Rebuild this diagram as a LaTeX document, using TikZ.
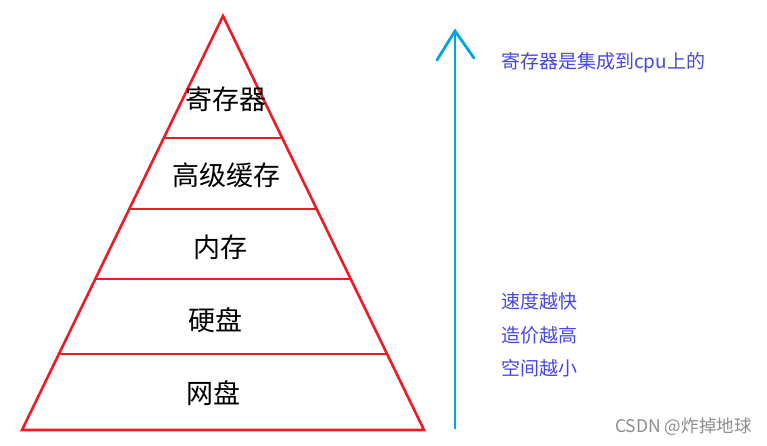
\documentclass[tikz,border=0pt]{standalone}
\usepackage{fontspec}
\setmainfont{Noto Sans CJK SC}
\usepackage{xcolor}
\usetikzlibrary{arrows.meta,positioning,calc}

\definecolor{pyrred}{HTML}{ED1C24}
\definecolor{arrblue}{HTML}{00A2E8}
\definecolor{notecol}{HTML}{4646E0}

\begin{document}
\begin{tikzpicture}[
    x=1pt, y=-1pt,
    edge/.style={draw=pyrred, line width=2.6pt},
    level/.style={font=\fontsize{27}{30}\selectfont, text=black, inner sep=0pt},
    note/.style={font=\fontsize{19}{22}\selectfont, text=notecol, inner sep=0pt, anchor=west},
    wmark/.style={font=\fontsize{17.5}{20}\selectfont, text=black!45, inner sep=0pt, anchor=west},
    up/.style={draw=arrblue, line width=2.8pt}
]
    \useasboundingbox (0,0) rectangle (767,445);

    % pyramid
    \coordinate (apex) at (223,16);
    \coordinate (bl) at (22,430);
    \coordinate (br) at (424,430);
    \draw[edge] (bl) -- (apex) -- (br) -- cycle;
    \foreach \y in {138,209,279,354}
        \draw[edge] ({223-(\y-16)*0.4855},\y) -- ({223+(\y-16)*0.4855},\y);

    \node[level] (reg) at (226,99) {寄存器};
    \node[level] (cache) at (226,175) {高级缓存};
    \node[level] (mem) at (220,247) {内存};
    \node[level] (disk) at (215,320) {硬盘};
    \node[level] (net) at (213,393) {网盘};

    % arrow
    \coordinate (tail) at (455,429);
    \coordinate (tip) at (455,31);
    \coordinate (barbl) at (437,60);
    \coordinate (barbr) at (474,58);
    \draw[up] (tail) -- (tip);
    \draw[up, line cap=round] (barbl) -- (tip) -- (barbr);

    % notes
    \node[note] (cpu) at (501,63) {寄存器是集成到cpu上的};
    \node[note] (fast) at (501,301) {速度越快};
    \node[note, below=34pt of fast.west, anchor=west] (cost) {造价越高};
    \node[note, below=33pt of cost.west, anchor=west] (small) {空间越小};

    \node[wmark] (wm) at (615,427) {CSDN @炸掉地球};
\end{tikzpicture}
\end{document}
